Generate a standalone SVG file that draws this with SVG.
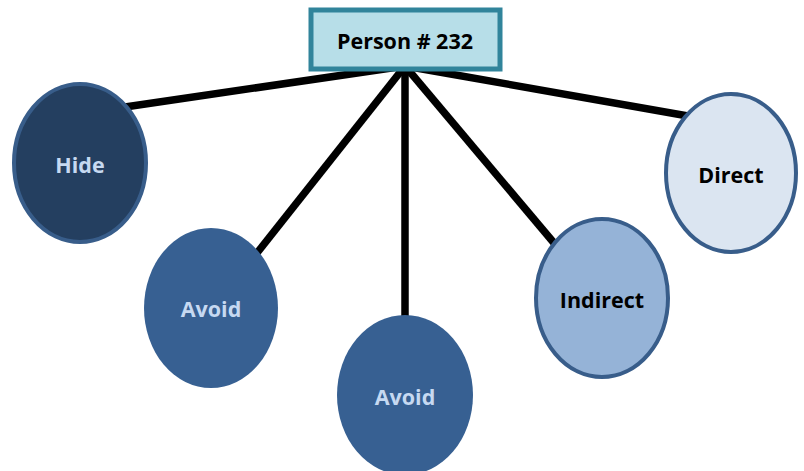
<svg xmlns="http://www.w3.org/2000/svg" width="804" height="471" viewBox="0 0 804 471">
<style>
.c{stroke:#000;stroke-width:7.5;stroke-linecap:butt;fill:none}
.t{font-family:"Open Sans","Liberation Sans",sans-serif;font-weight:bold;font-size:21.5px;text-anchor:middle;dominant-baseline:central}
.lt{fill:#C6D9F1}
.dk{fill:#000}
</style>
<rect width="804" height="471" fill="#fff"/>
<g id="connectors">
<line class="c" x1="405" y1="66" x2="125" y2="107"/>
<line class="c" x1="405" y1="66" x2="257" y2="253"/>
<line class="c" x1="405" y1="66" x2="405" y2="322"/>
<line class="c" x1="405" y1="66" x2="554" y2="243"/>
<line class="c" x1="405" y1="66" x2="688" y2="116"/>
</g>
<g id="hide">
<ellipse cx="80" cy="163" rx="66" ry="79" fill="#243F60" stroke="#385D8A" stroke-width="4"/>
<text class="t lt" x="80" y="164">Hide</text>
</g>
<g id="avoid1">
<ellipse cx="211" cy="308" rx="67" ry="80" fill="#376092"/>
<text class="t lt" x="211" y="308">Avoid</text>
</g>
<g id="avoid2">
<ellipse cx="405" cy="395" rx="68" ry="80" fill="#376092"/>
<text class="t lt" x="405" y="396">Avoid</text>
</g>
<g id="indirect">
<ellipse cx="602" cy="298" rx="66" ry="79" fill="#95B3D7" stroke="#385D8A" stroke-width="4"/>
<text class="t dk" x="602" y="299">Indirect</text>
</g>
<g id="direct">
<ellipse cx="731" cy="173" rx="65" ry="79" fill="#DBE5F1" stroke="#385D8A" stroke-width="4"/>
<text class="t dk" x="731" y="174">Direct</text>
</g>
<g id="person">
<rect x="311" y="10" width="189" height="59" fill="#B7DEE8" stroke="#31849B" stroke-width="5"/>
<text class="t dk" x="405" y="40">Person # 232</text>
</g>
</svg>
